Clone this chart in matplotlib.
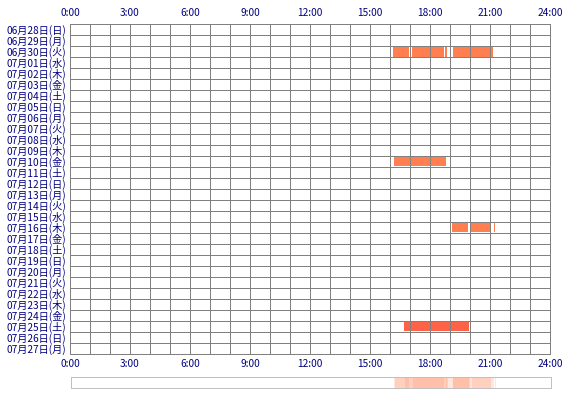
import matplotlib
matplotlib.use("Agg")
import matplotlib.pyplot as plt
import pandas as pd

plt.rcParams["font.family"] = ["Noto Sans CJK JP", "DejaVu Sans"]

# days shown on the chart (one row each)
START_DAY = "2020-06-28"
N_DAYS = 30
WEEKDAYS = ["月", "火", "水", "木", "金", "土", "日"]

# sessions: day, start hour, end hour
session_days = ["06/30", "06/30", "06/30", "06/30", "07/10", "07/16", "07/16", "07/16", "07/25"]
session_starts = [16.15, 17.10, 18.77, 19.13, 16.20, 19.10, 20.05, 21.20, 16.70]
session_ends = [16.93, 18.68, 18.85, 21.17, 18.80, 19.90, 21.00, 21.25, 19.95]

hour_ticks = [0, 3, 6, 9, 12, 15, 18, 21, 24]
hour_labels = [f"{h}:00" for h in hour_ticks]

NAVY = "#000080"
GRID = "#808080"
BAR = "#ff7f50"
BAR_LONG = "#ff6347"
LW = 0.72  # one pixel at 100 dpi

dates = pd.date_range(START_DAY, periods=N_DAYS)
keys = [d.strftime("%m/%d") for d in dates]
day_labels = [f"{d.strftime('%m')}月{d.strftime('%d')}日({WEEKDAYS[d.weekday()]})" for d in dates]

fig = plt.figure(figsize=(5.7, 4.0), dpi=100)
ax = fig.add_axes([70 / 570, (400 - 353.7) / 400, 480 / 570, 329.7 / 400])

for day, s, e in zip(session_days, session_starts, session_ends):
    row = keys.index(day)
    color = BAR_LONG if e - s > 3 else BAR
    ax.barh(row + 0.5, e - s, left=s, height=0.92, color=color, linewidth=0)

ax.set_xlim(0, 24)
ax.set_ylim(N_DAYS, 0)
ax.set_xticks(hour_ticks)
ax.set_xticklabels(hour_labels)
ax.set_xticks(range(25), minor=True)
ax.set_yticks([i + 0.5 for i in range(N_DAYS)])
ax.set_yticklabels(day_labels)
ax.set_yticks(range(N_DAYS + 1), minor=True)

ax.set_axisbelow(False)
ax.grid(axis="x", which="both", color=GRID, linewidth=LW, antialiased=False)
ax.grid(axis="y", which="minor", color=GRID, linewidth=LW, antialiased=False)
for sp in ax.spines.values():
    sp.set_color(GRID)
    sp.set_linewidth(LW)
    sp.set_antialiased(False)

ax.tick_params(axis="x", which="both", length=0, top=True, labeltop=True,
               labelsize=7.3, labelcolor=NAVY, pad=4)
ax.tick_params(axis="y", which="both", length=0, labelsize=7.3, labelcolor=NAVY, pad=3)

# summary strip: all sessions overlaid
ax2 = fig.add_axes([70.7 / 570, (400 - 388) / 400, 480 / 570, 11.3 / 400])
for s, e in zip(session_starts, session_ends):
    ax2.axvspan(s, e, color=BAR, alpha=0.2, linewidth=0)
ax2.set_xlim(0, 24)
ax2.set_ylim(0, 1)
ax2.set_xticks([])
ax2.set_yticks([])
for sp in ax2.spines.values():
    sp.set_color("#c0c0c0")
    sp.set_linewidth(LW)
    sp.set_antialiased(False)

fig.savefig("out.png", dpi=100)
